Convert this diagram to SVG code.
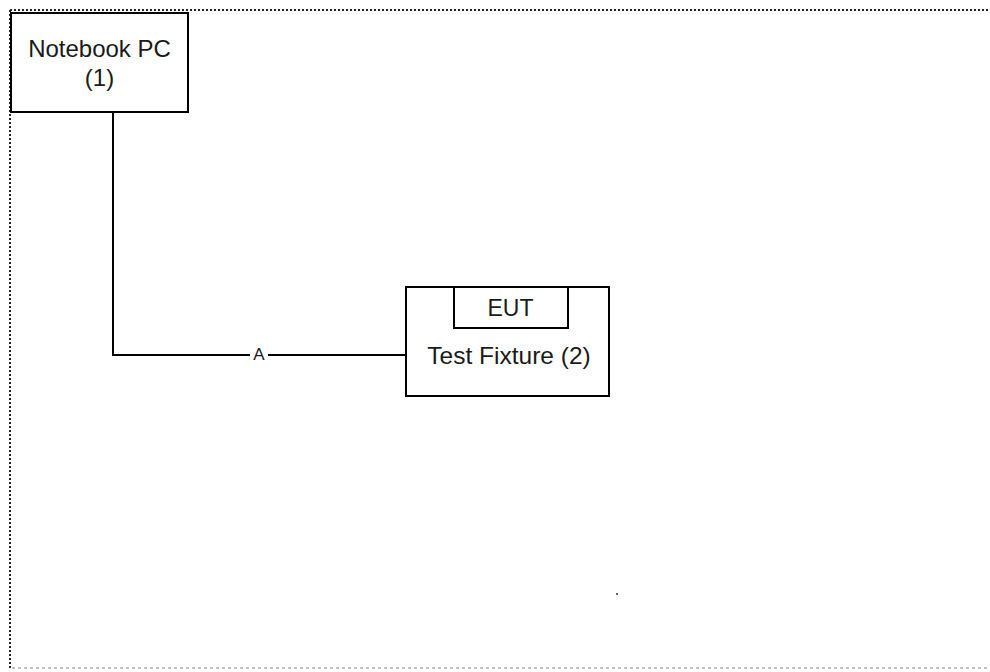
<svg xmlns="http://www.w3.org/2000/svg" width="990" height="672" viewBox="0 0 990 672">
<style>
.box{fill:#fff;stroke:#000;stroke-width:2}
.t{font-family:"Liberation Sans",Arial,sans-serif;fill:#1a1a1a;text-anchor:middle}
.wire{fill:none;stroke:#000;stroke-width:2}
</style>
<rect width="990" height="672" fill="#fff"/>
<g id="frame">
<line x1="10" y1="10" x2="990" y2="10" stroke="#222" stroke-width="2" stroke-dasharray="2,2"/>
<line x1="10" y1="10" x2="10" y2="668" stroke="#222" stroke-width="2" stroke-dasharray="2,2"/>
<line x1="12" y1="668" x2="990" y2="668" stroke="#aaa" stroke-width="1.5" stroke-dasharray="3,3"/>
</g>
<g id="connectors">
<polyline class="wire" points="113,112 113,355 250,355"/>
<line class="wire" x1="268" y1="355" x2="406" y2="355"/>
<text class="t" x="259" y="360" font-size="17">A</text>
</g>
<g id="notebook">
<rect class="box" x="11" y="13" width="177" height="99"/>
<text class="t" x="99.5" y="57" font-size="24">Notebook PC</text>
<text class="t" x="99.5" y="86" font-size="24">(1)</text>
</g>
<g id="fixture">
<rect class="box" x="406" y="287" width="203" height="109"/>
<text class="t" x="509" y="364" font-size="24.5">Test Fixture (2)</text>
</g>
<g id="eut">
<rect class="box" x="454" y="287" width="114" height="41"/>
<text class="t" x="510.5" y="316" font-size="23">EUT</text>
</g>
<circle cx="617" cy="594" r="1" fill="#333"/>
</svg>
